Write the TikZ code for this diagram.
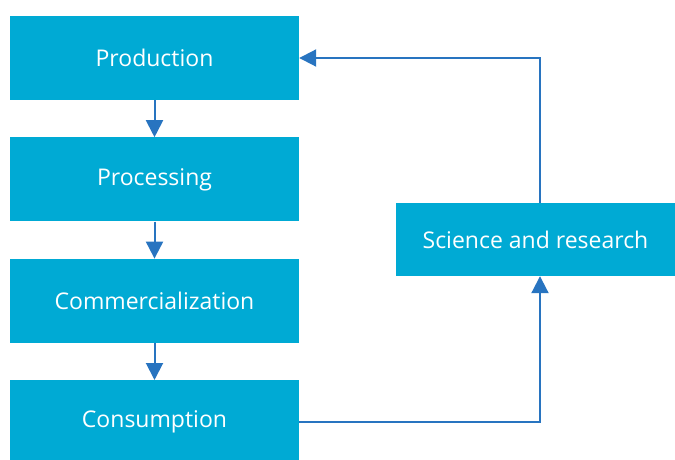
\documentclass[tikz,border=0pt]{standalone}
\usepackage{fontspec}
\setmainfont{Open Sans}
\usetikzlibrary{arrows.meta,positioning}

\definecolor{boxblue}{RGB}{0,170,212}
\definecolor{arrowblue}{RGB}{40,116,192}

\tikzset{
    stage/.style={rectangle, fill=boxblue, text=white, minimum width=289pt,
        minimum height=84pt, inner sep=0pt, font=\fontsize{23}{27}\selectfont},
    flow/.style={color=arrowblue, line width=2pt,
        -{Triangle[width=17pt,length=17pt]}}
}

\begin{document}
\begin{tikzpicture}[x=1pt, y=1pt, node distance=37pt]
    \useasboundingbox (0,0) rectangle (675,459);
    % Nodes {prod, proc, comm, cons, sci}
    \node [stage]   (prod)  at (154.5,401)  {Production};
    \node [stage]   (proc)  [below=of prod] {Processing};
    \node [stage]   (comm)  [below=of proc] {Commercialization};
    \node [stage]   (cons)  [below=of comm] {Consumption};
    \node [stage, minimum width=279pt, minimum height=73pt]
                    (sci)   at (535.5,219.5) {Science and research};

    % Paths
    \path [flow]    (prod) edge (proc);
    \path [flow]    (proc) edge (comm);
    \path [flow]    (comm) edge (cons);
    \draw [flow]    (cons.east) -| ([xshift=4.5pt]sci.south);
    \draw [flow]    ([xshift=4.5pt]sci.north) |- (prod.east);

\end{tikzpicture}
\end{document}
